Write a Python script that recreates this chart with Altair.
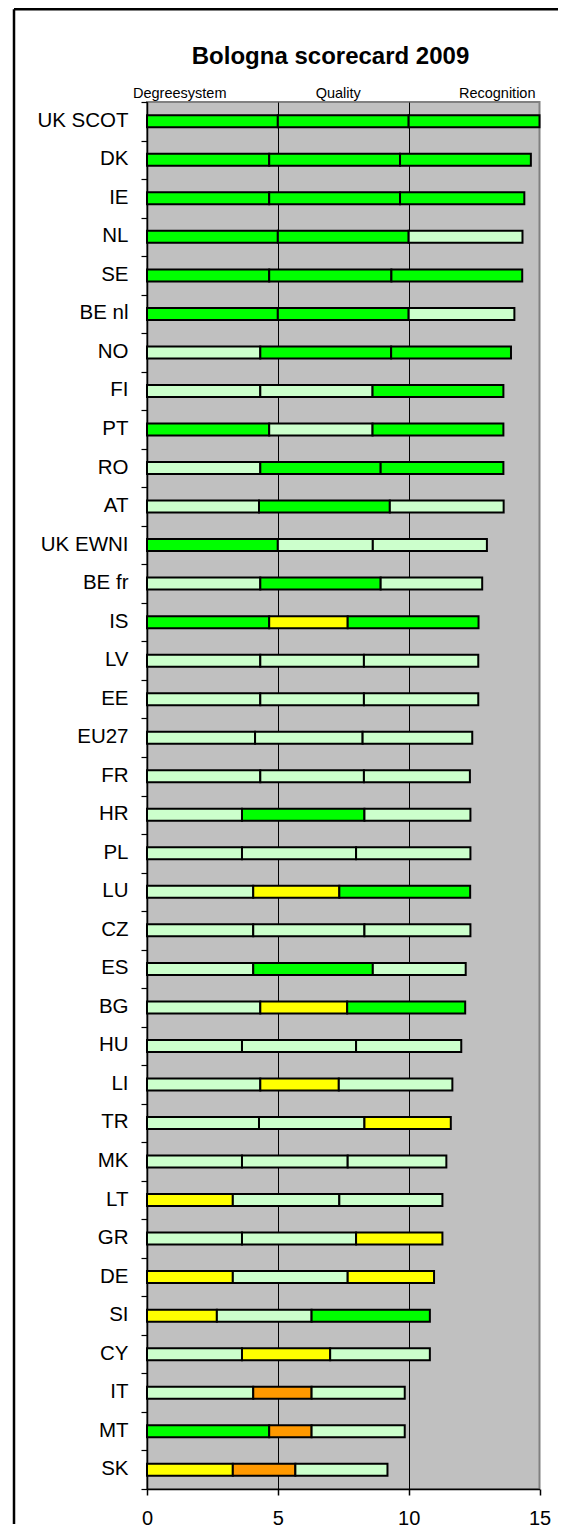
import altair as alt
import pandas as pd

countries = ["UK SCOT", "DK", "IE", "NL", "SE", "BE nl", "NO", "FI", "PT", "RO",
             "AT", "UK EWNI", "BE fr", "IS", "LV", "EE", "EU27", "FR", "HR", "PL",
             "LU", "CZ", "ES", "BG", "HU", "LI", "TR", "MK", "LT", "GR",
             "DE", "SI", "CY", "IT", "MT", "SK"]
components = ["Degreesystem", "Quality", "Recognition"]

degree = [5, 4.67, 4.67, 5, 4.67, 5, 4.33, 4.33, 4.67, 4.33,
          4.28, 5, 4.33, 4.67, 4.33, 4.33, 4.13, 4.33, 3.63, 3.63,
          4.06, 4.06, 4.06, 4.33, 3.63, 4.33, 4.28, 3.63, 3.28, 3.63,
          3.28, 2.67, 3.63, 4.06, 4.67, 3.28]
quality = [5, 5, 5, 5, 4.67, 5, 5, 4.29, 3.95, 4.6,
           5, 3.63, 4.6, 3.0, 3.96, 3.96, 4.11, 3.96, 4.68, 4.36,
           3.29, 4.25, 4.57, 3.32, 4.36, 3.0, 4.03, 4.04, 4.07, 4.36,
           4.39, 3.62, 3.37, 2.23, 1.62, 2.39]
recognition = [5, 5, 4.75, 4.35, 5, 4.04, 4.58, 5, 5, 4.69,
               4.35, 4.36, 3.88, 5, 4.37, 4.37, 4.19, 4.05, 4.05, 4.37,
               5, 4.05, 3.55, 4.51, 4.02, 4.34, 3.3, 3.77, 3.94, 3.3,
               3.3, 4.52, 3.81, 3.56, 3.56, 3.52]

G, L, Y, O = "green", "light green", "yellow", "orange"
degree_level = [G, G, G, G, G, G, L, L, G, L,
                L, G, L, G, L, L, L, L, L, L,
                L, L, L, L, L, L, L, L, Y, L,
                Y, Y, L, L, G, Y]
quality_level = [G, G, G, G, G, G, G, L, L, G,
                 G, L, G, Y, L, L, L, L, G, L,
                 Y, L, G, Y, L, Y, L, L, L, L,
                 L, L, Y, O, O, O]
recognition_level = [G, G, G, L, G, L, G, G, G, G,
                     L, L, L, G, L, L, L, L, L, L,
                     G, L, L, G, L, L, Y, L, L, Y,
                     Y, G, L, L, L, L]

level_names = [G, L, Y, O]
level_colors = ["#00FF00", "#CCFFCC", "#FFFF00", "#FF9900"]
x_ticks = [0, 5, 10, 15]
title_text = "Bologna scorecard 2009"

rows = []
series = [(degree, degree_level), (quality, quality_level), (recognition, recognition_level)]
for i, c in enumerate(countries):
    for j, (vals, levs) in enumerate(series):
        rows.append({"country": c, "component": components[j], "order": j,
                     "value": vals[i], "level": levs[i]})
df = pd.DataFrame(rows)

FONT = "Liberation Sans"

bars = alt.Chart(df).mark_bar(size=12, stroke="black", strokeWidth=2).encode(
    x=alt.X("value:Q", stack="zero",
            scale=alt.Scale(domain=[0, 15], nice=False, zero=True),
            axis=alt.Axis(values=x_ticks, title=None, grid=True, gridColor="black",
                          gridWidth=1,
                          gridOpacity={"condition": {"test": "datum.value >= 15", "value": 0}, "value": 1},
                          domainColor="black", domainWidth=1.5, tickColor="black",
                          tickSize=6, tickWidth=1.5, labelFontSize=20, labelFont=FONT,
                          labelColor="black", labelPadding=29, labelBaseline="alphabetic",
                          labelFlush=False)),
    y=alt.Y("country:N", sort=countries,
            scale=alt.Scale(paddingInner=0, paddingOuter=0),
            axis=alt.Axis(title=None, tickBand="extent", tickSize=6, tickColor="black",
                          tickWidth=1.2, domainColor="black", domainWidth=1.5,
                          labelFontSize=20.5, labelFont=FONT, labelColor="black",
                          labelPadding=13, labelOffset=-1)),
    color=alt.Color("level:N", scale=alt.Scale(domain=level_names, range=level_colors), legend=None),
    order=alt.Order("order:Q", sort="ascending"),
    tooltip=["country:N", "component:N", "value:Q"],
)

title_mark = alt.Chart(pd.DataFrame({"t": [title_text]})).mark_text(
    fontSize=24, fontWeight="bold", font=FONT, align="center", baseline="alphabetic", color="black"
).encode(x=alt.value(183.5), y=alt.value(-38), text="t:N")


def header(label, anchor, align, dx):
    return alt.Chart(pd.DataFrame({"label": [label]})).mark_text(
        align=align, baseline="alphabetic", dx=dx, fontSize=14.5, font=FONT, color="black"
    ).encode(x=alt.datum(anchor), y=alt.value(-4), text="label:N")


h1 = header(components[0], 0, "left", -14)
h2 = header(components[1], 7.5, "center", -5)
h3 = header(components[2], 15, "right", -4)

left_rule = alt.Chart(pd.DataFrame({"a": [0]})).mark_rule(color="black", strokeWidth=2.5).encode(
    x=alt.value(-133), y=alt.value(-92.7), y2=alt.value(1422))
top_rule = alt.Chart(pd.DataFrame({"a": [0]})).mark_rule(color="black", strokeWidth=2.5).encode(
    x=alt.value(-133), x2=alt.value(411), y=alt.value(-92.7))

chart = alt.layer(bars, title_mark, h1, h2, h3, left_rule, top_rule).properties(
    width=392.5, height=1387,
    padding={"left": 4, "top": 0, "right": 0, "bottom": 0},
).configure_view(fill="#C0C0C0", stroke="#808080", strokeWidth=2)

chart.save("out.html", embed_options={"renderer": "svg", "actions": False})
